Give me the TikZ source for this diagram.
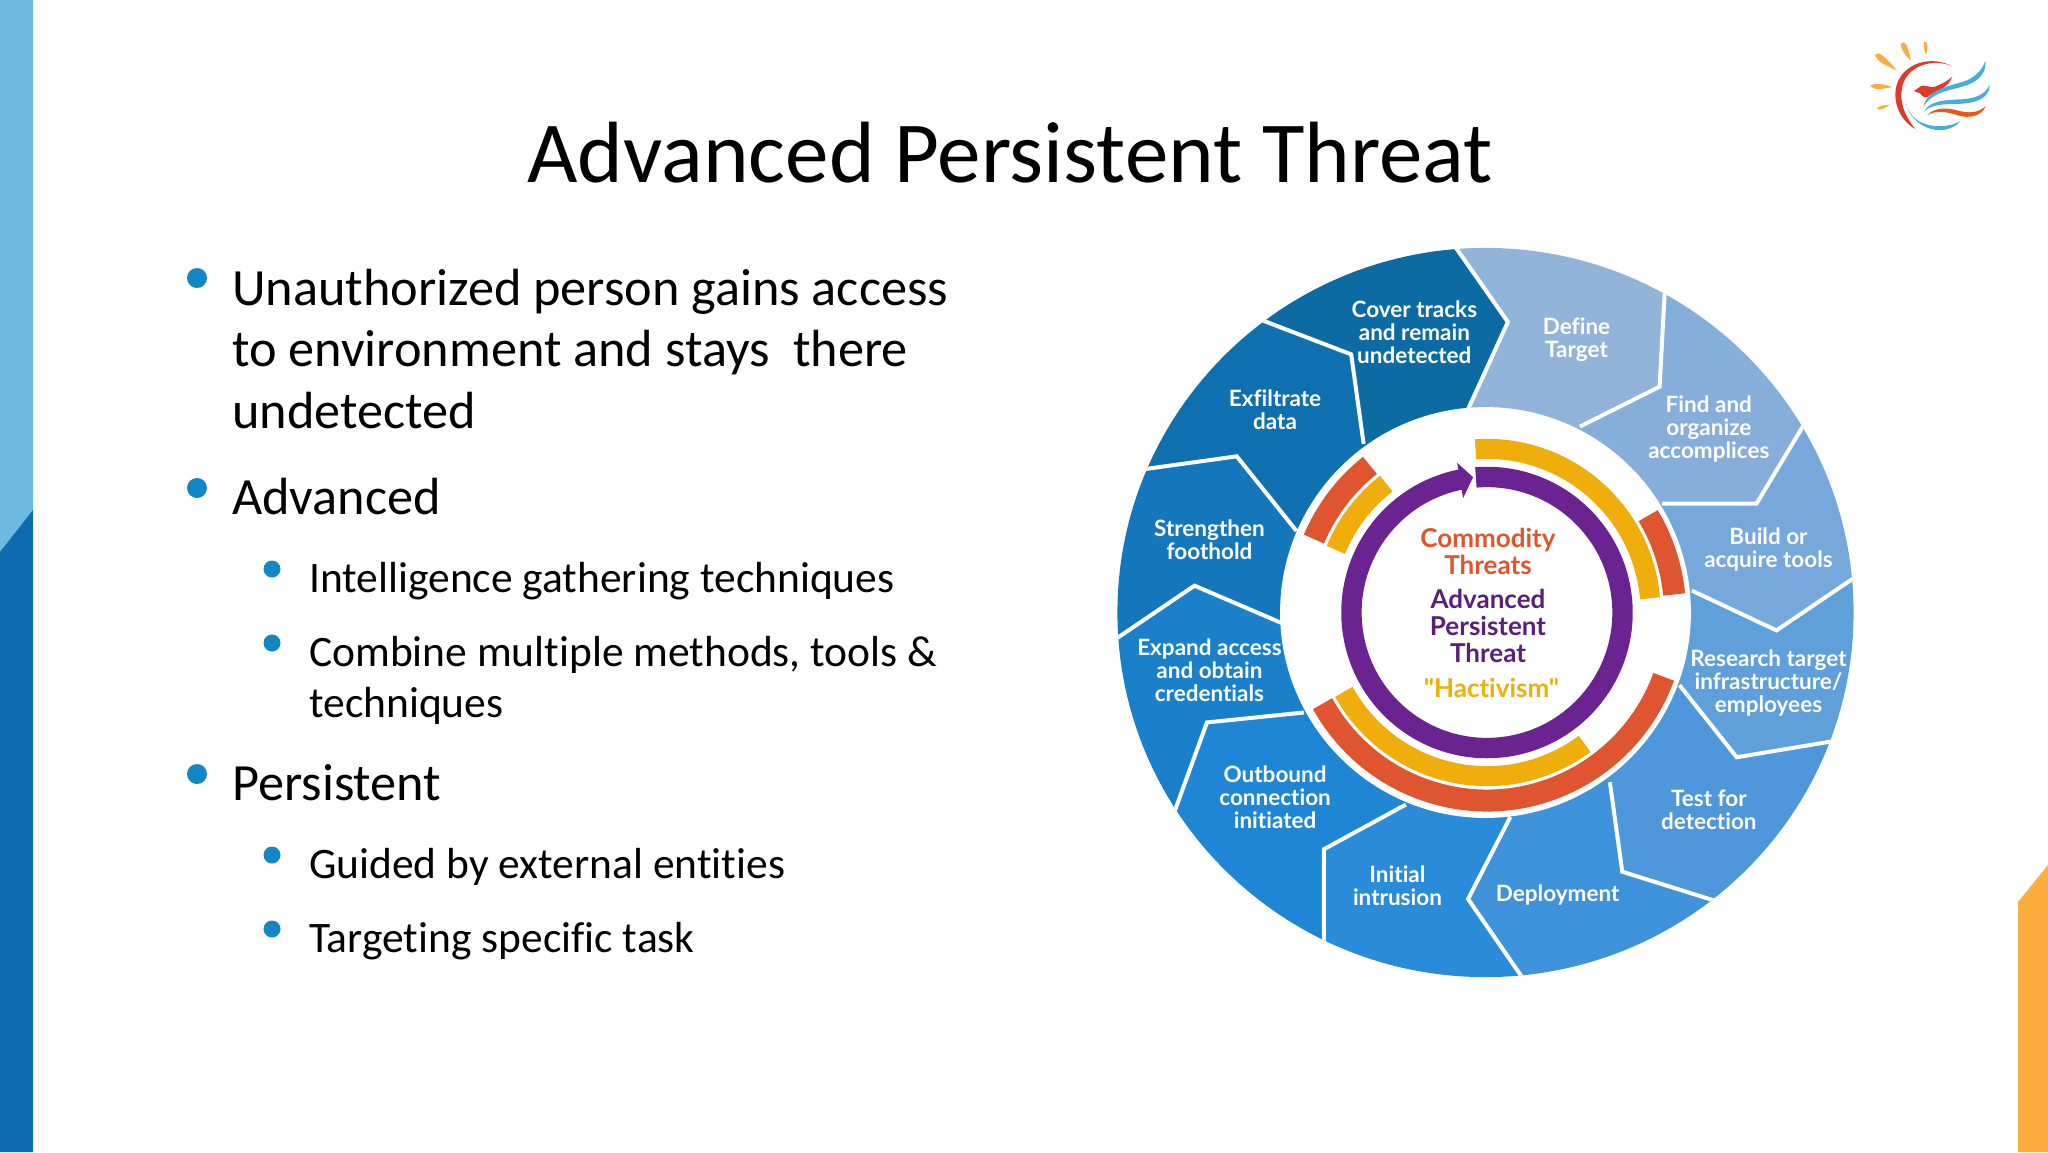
\documentclass[tikz,border=0pt]{standalone}
\usepackage{fontspec}
\setmainfont[Ligatures=NoCommon]{Carlito}
\newfontfamily\wheelfont[Ligatures=NoCommon]{Lato}
\usetikzlibrary{calc}

\definecolor{stripLight}{HTML}{6DB9E0}
\definecolor{stripDark}{HTML}{0F6CB0}
\definecolor{stripOrange}{HTML}{FBAE3C}
\definecolor{bulletBlue}{HTML}{1287C6}
\definecolor{ringRed}{HTML}{DF5530}
\definecolor{ringYellow}{HTML}{F0AE0C}
\definecolor{ringPurple}{HTML}{6A2391}
\definecolor{logoRed}{HTML}{DD3B2A}
\definecolor{logoBlue}{HTML}{45AEDB}
\definecolor{segA}{HTML}{93B4D9}
\definecolor{segB}{HTML}{86AEDB}
\definecolor{segC}{HTML}{76A8DC}
\definecolor{segD}{HTML}{5F9FDA}
\definecolor{segE}{HTML}{4D97DA}
\definecolor{segF}{HTML}{3F93DB}
\definecolor{segG}{HTML}{2A8BD9}
\definecolor{segH}{HTML}{1E86D5}
\definecolor{segI}{HTML}{1A80CA}
\definecolor{segJ}{HTML}{1477BC}
\definecolor{segK}{HTML}{0E70AE}
\definecolor{segL}{HTML}{0C6BA3}

\tikzset{
  bigitem/.style={anchor=base west,inner sep=0pt,font=\fontsize{52.3}{52}\selectfont},
  subitem/.style={anchor=base west,inner sep=0pt,font=\fontsize{43.5}{44}\selectfont},
  bigdot/.style={circle,fill=bulletBlue,inner sep=0pt,minimum size=20pt},
  subdot/.style={circle,fill=bulletBlue,inner sep=0pt,minimum size=17pt},
  seglabel/.style={align=center,inner sep=0pt,text=white,font=\wheelfont\bfseries\fontsize{22.5}{23}\selectfont},
  midlabel/.style={align=center,inner sep=0pt,font=\wheelfont\bfseries\fontsize{26}{27}\selectfont},
  ringarc/.style={line width=#1,line cap=butt}
}

\begin{document}
\begin{tikzpicture}[x=1pt,y=-1pt]
  \useasboundingbox (0,0) rectangle (2048,1152);

  % strips
  \fill[stripLight] (0,0) rectangle (33,552);
  \fill[stripDark] (0,552) -- (33,510) -- (33,1152) -- (0,1152) -- cycle;
  \fill[stripOrange] (2018,1152) -- (2018,902) -- (2048,865) -- (2048,1152) -- cycle;

  \node (title) [anchor=base,inner sep=0pt,font=\fontsize{87}{87}\selectfont] at (1010,182) {Advanced Persistent Threat};

  % text on the left
  \node (itemA) [bigitem] at (232,305) {Unauthorized person gains access};
  \node (itemAb) [bigitem] at (232,366) {to environment and stays\ \ there};
  \node (itemAc) [bigitem] at (232,428) {undetected};
  \node (itemB) [bigitem] at (232,514) {Advanced};
  \node (itemBa) [subitem] at (309,592) {Intelligence gathering techniques};
  \node (itemBb) [subitem] at (309,666) {Combine multiple methods, tools \&};
  \node (itemBc) [subitem] at (309,717) {techniques};
  \node (itemC) [bigitem] at (232,800) {Persistent};
  \node (itemCa) [subitem] at (309,878) {Guided by external entities};
  \node (itemCb) [subitem] at (309,952) {Targeting specific task};
  \node (dotA) [bigdot] at (197,278) {};
  \node (dotB) [bigdot] at (197,488) {};
  \node (dotBa) [subdot] at (272,569) {};
  \node (dotBb) [subdot] at (272,643) {};
  \node (dotC) [bigdot] at (197,774) {};
  \node (dotCa) [subdot] at (272,855) {};
  \node (dotCb) [subdot] at (272,929) {};

  % wheel
  \begin{scope}[shift={(1100,230)},x=0.4974pt,y=-0.4974pt]
    \coordinate (hub) at (775,769);
    \coordinate (ringc) at (778,769);
    \foreach \n/\ix/\iy/\tx/\ty/\ox/\oy in {
      1/740/360/820/185/715/35, 2/965/395/1125/315/1135/130,
      3/1130/550/1320/550/1410/400, 4/1190/725/1360/805/1515/700,
      5/1165/915/1280/1060/1460/1030, 6/1025/1110/1050/1290/1225/1345,
      7/825/1180/740/1345/845/1497, 8/615/1155/450/1245/450/1425,
      9/410/970/215/990/155/1155, 10/365/790/190/715/35/820,
      11/395/605/275/455/95/480, 12/530/430/505/250/335/185} {
      \coordinate (in\n) at (\ix,\iy);
      \coordinate (tip\n) at (\tx,\ty);
      \coordinate (out\n) at ($(tip\n)!1.5!(\ox,\oy)$);
    }
    \begin{scope}
      \clip (hub) ellipse (740 and 733);
      \foreach \n/\m/\c in {1/2/segA,2/3/segB,3/4/segC,4/5/segD,5/6/segE,6/7/segF,
                            7/8/segG,8/9/segH,9/10/segI,10/11/segJ,11/12/segK,12/1/segL}
        \fill[\c] (hub) -- (in\n) -- (tip\n) -- (out\n) -- (out\m) -- (tip\m) -- (in\m) -- cycle;
      \foreach \n in {1,...,12}
        \draw[white,line width=4pt,line join=miter] (in\n) -- (tip\n) -- (out\n);
    \end{scope}
    \fill[white] (hub) circle (413);

    % rings
    \begin{scope}[shift={(ringc)},x=0.4974pt,y=0.4974pt]
      \draw[ringYellow,ringarc=20pt] (94:329) arc[start angle=94,end angle=5,radius=329];
      \draw[ringRed,ringarc=22pt] (31:378) arc[start angle=31,end angle=5.5,radius=378];
      \draw[ringRed,ringarc=22pt] (128.5:378) arc[start angle=128.5,end angle=157,radius=378];
      \draw[ringYellow,ringarc=20pt] (128:329) arc[start angle=128,end angle=157.5,radius=329];
      \draw[ringYellow,ringarc=20pt] (209:329) arc[start angle=209,end angle=306.6,radius=329];
      \draw[ringRed,ringarc=22pt] (209:378) arc[start angle=209,end angle=340,radius=378];
      \draw[ringPurple,ringarc=20.4pt] (94.7:272.5) arc[start angle=94.7,end angle=-259,radius=272.5];
      \fill[ringPurple] (-60,301) -- (-28,272) -- (-48,230) -- cycle;
    \end{scope}

    \node (define) [seglabel] at (958,220) {Define\\Target};
    \node (find) [seglabel] at (1224,401) {Find and\\organize\\accomplices};
    \node (build) [seglabel] at (1344,643) {Build or\\acquire tools};
    \node (research) [seglabel] at (1344,910) {Research target\\infrastructure/\\employees};
    \node (test) [seglabel] at (1224,1165) {Test for\\detection};
    \node (deploy) [seglabel] at (920,1336) {Deployment};
    \node (initial) [seglabel] at (598,1318) {Initial\\intrusion};
    \node (outbound) [seglabel] at (352,1140) {Outbound\\connection\\initiated};
    \node (expand) [seglabel] at (220,886) {Expand access\\and obtain\\credentials};
    \node (strengthen) [seglabel] at (220,623) {Strengthen\\foothold};
    \node (exfil) [seglabel] at (352,362) {Exfiltrate\\data};
    \node (cover) [seglabel] at (632,205) {Cover tracks\\and remain\\undetected};

    \node (commodity) [midlabel,text=ringRed] at (780,646) {Commodity\\Threats};
    \node (apt) [midlabel,text=ringPurple!85!black] at (780,795) {Advanced\\Persistent\\Threat};
    \node (hact) [midlabel,text=ringYellow] at (787,920) {"Hactivism"};
  \end{scope}

  % logo
  \begin{scope}[shift={(1840,20)},x=0.3333pt,y=-0.3333pt]
    \fill[stripOrange] (105,105) .. controls (115,92) and (130,105) .. (172,152) .. controls (135,135) and (110,125) .. (105,105) -- cycle;
    \fill[stripOrange] (183,70) .. controls (195,58) and (205,80) .. (213,122) .. controls (195,105) and (180,85) .. (183,70) -- cycle;
    \fill[stripOrange] (252,66) .. controls (262,62) and (265,75) .. (258,107) .. controls (252,90) and (250,75) .. (252,66) -- cycle;
    \fill[stripOrange] (90,197) .. controls (105,188) and (130,192) .. (157,201) .. controls (130,207) and (100,212) .. (90,197) -- cycle;
    \fill[stripOrange] (110,265) .. controls (120,256) and (135,255) .. (150,254) .. controls (135,263) and (118,275) .. (110,265) -- cycle;
    \fill[logoRed] (335,138) .. controls (270,105) and (190,130) .. (170,195)
      .. controls (155,250) and (185,305) .. (226,327)
      .. controls (195,290) and (175,245) .. (188,195)
      .. controls (205,135) and (280,115) .. (335,138) -- cycle;
    \fill[logoBlue] (197,245) .. controls (205,295) and (255,335) .. (310,330)
      .. controls (335,325) and (350,318) .. (361,303)
      .. controls (325,325) and (260,325) .. (225,295)
      .. controls (210,282) and (200,265) .. (197,245) -- cycle;
    \fill[logoRed] (222,213) -- (245,197) .. controls (260,195) and (275,205) .. (285,200)
      .. controls (305,192) and (320,185) .. (337,170)
      .. controls (325,200) and (295,215) .. (270,225)
      .. controls (262,235) and (250,235) .. (240,220) -- cycle;
    \fill[logoBlue] (436,122) .. controls (440,175) and (395,195) .. (340,207)
      .. controls (310,215) and (270,225) .. (250,260)
      .. controls (262,210) and (320,200) .. (370,185)
      .. controls (400,175) and (425,155) .. (436,122) -- cycle;
    \fill[logoBlue] (449,195) .. controls (448,240) and (400,250) .. (350,252)
      .. controls (310,253) and (275,252) .. (252,275)
      .. controls (270,240) and (320,240) .. (365,238)
      .. controls (405,235) and (435,225) .. (449,195) -- cycle;
    \fill[logoRed!60!orange] (437,258) .. controls (425,290) and (385,297) .. (350,285)
      .. controls (320,275) and (290,270) .. (262,285)
      .. controls (285,262) and (320,262) .. (355,272)
      .. controls (385,280) and (415,280) .. (437,258) -- cycle;
  \end{scope}
\end{tikzpicture}
\end{document}
